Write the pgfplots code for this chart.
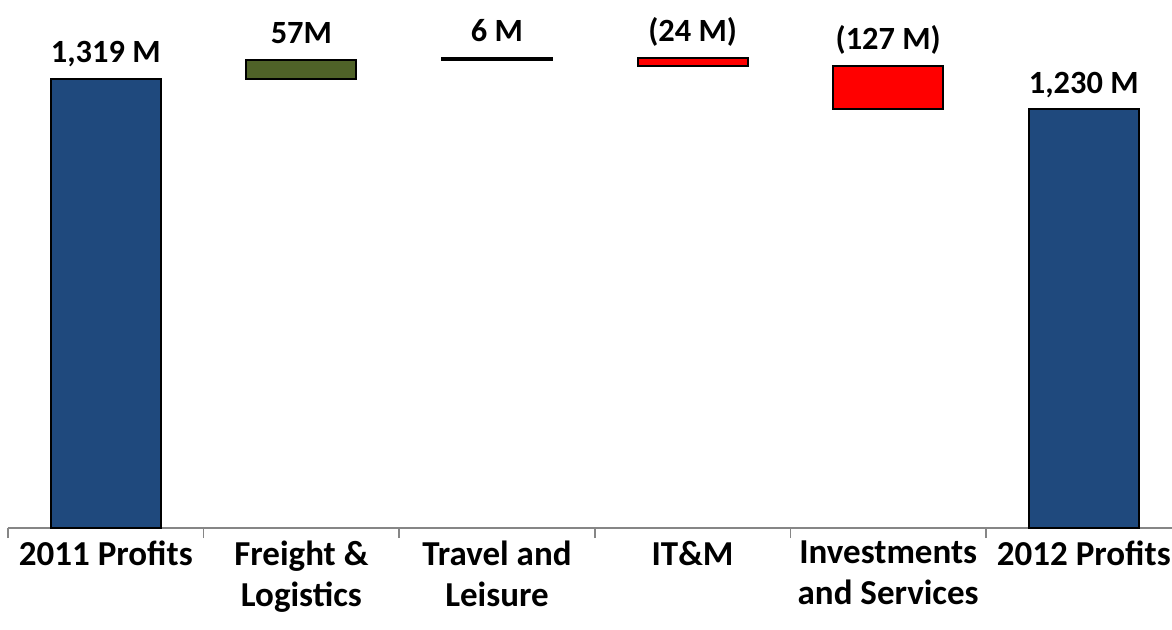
\documentclass[border=0pt]{standalone}
\usepackage{pgfplots}
\usepackage{pgfplotstable}
\pgfplotsset{compat=1.18}
\usepackage{fontspec}
\setmainfont{Carlito}

\definecolor{wfblue}{RGB}{31,73,125}
\definecolor{wfgreen}{RGB}{79,98,40}
\definecolor{wfred}{RGB}{255,0,0}
\definecolor{axisgray}{RGB}{134,134,134}

% Profit bridge 2011 -> 2012 (million): invisible base, then one column per colour
\pgfplotstableread{
x base total gain flat loss
0 0    1319 0  0 0
1 1319 0    57 0 0
2 1376 0    0  6 0
3 1358 0    0  0 24
4 1231 0    0  0 127
5 0    1230 0  0 0
}\wf

\newcommand{\lblfont}{\fontsize{17.5}{20.5}\selectfont\bfseries}
\newcommand{\valfont}{\fontsize{16.2}{19}\selectfont\bfseries}
\tikzset{vlabel/.style={anchor=base, yshift=8pt, font=\valfont, inner sep=0pt}}

\begin{document}
\begin{tikzpicture}
\useasboundingbox (-4pt,-50.5pt) rectangle (582pt,264pt);
\begin{axis}[
  at={(0pt,0pt)}, anchor=south west,
  scale only axis, width=582pt, height=264pt,
  ybar stacked, bar width=55pt,
  xmin=-0.5, xmax=5.451, ymin=0, ymax=1551,
  axis y line=none, axis x line*=bottom,
  axis line style={axisgray, line width=0.75pt},
  tick align=outside,
  xtick={0,...,5},
  xticklabels={2011 Profits, Freight \&\\Logistics, Travel and\\Leisure, IT\&M, Investments\\and Services, 2012 Profits},
  major tick length=0pt,
  extra x ticks={-0.5,0.5,1.5,2.5,3.5,4.5},
  extra x tick labels={},
  extra x tick style={major tick length=5pt, tick style={axisgray, line width=0.75pt}},
  xticklabel style={align=center, font=\lblfont, yshift=-3pt},
  every axis plot/.append style={draw=black, line width=1pt},
  clip=false,
]
\addplot[draw=none, fill=none] table[x=x, y=base]{\wf};
\addplot[fill=wfblue] table[x=x, y=total]{\wf};
\addplot[fill=wfgreen] table[x=x, y=gain]{\wf};
\addplot[fill=black] table[x=x, y=flat]{\wf};
\addplot[fill=wfred] table[x=x, y=loss]{\wf};

% value labels above each bar top
\node[vlabel] at (axis cs:0,1319) {1,319 M};
\node[vlabel] at (axis cs:1,1376) {57M};
\node[vlabel] at (axis cs:2,1382) {6 M};
\node[vlabel] at (axis cs:3,1382) {(24 M)};
\node[vlabel] at (axis cs:4,1358) {(127 M)};
\node[vlabel] at (axis cs:5,1230) {1,230 M};
\end{axis}
\end{tikzpicture}
\end{document}
